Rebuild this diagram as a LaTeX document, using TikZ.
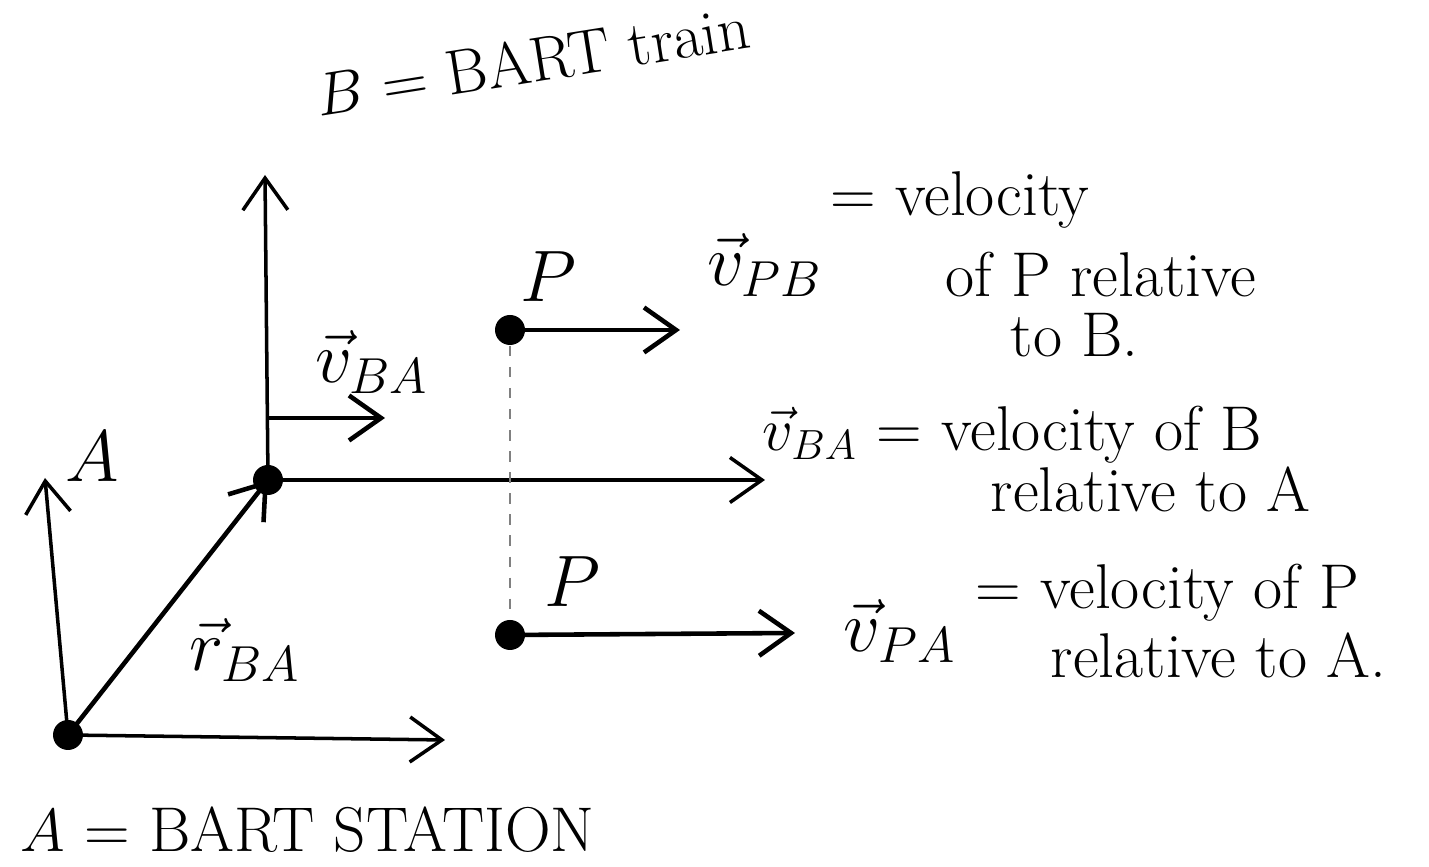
\documentclass[tikz,border=0pt]{standalone}
\usepackage{amsmath}
\usepackage{tikz}
\usetikzlibrary{arrows.meta,positioning,calc}

\begin{document}
\begin{tikzpicture}[>={Straight Barb[length=3.2mm,width=4.5mm]},
  axis/.style={->, line width=1pt},
  vec/.style={->, line width=1.3pt},
  pt/.style={circle, fill, inner sep=0pt, minimum size=3mm},
  txt/.style={font=\fontsize{18}{22}\selectfont, anchor=west, inner sep=0pt},
  lbl/.style={font=\fontsize{21}{25}\selectfont, inner sep=1pt}]
  \useasboundingbox (0,0) rectangle (14.29,8.67);
  % frame A (station)
  \node[pt] (OA) at (0.68,1.32) {};
  \coordinate (Ax) at (4.45,1.27);
  \coordinate (Ay) at (0.45,3.89);
  \draw[axis] (OA.center) -- (Ax);
  \draw[axis] (OA.center) -- (Ay);
  \node[lbl] (lA) at (0.92,4.10) {$A$};
  % frame B (train)
  \node[pt] (OB) at (2.68,3.87) {};
  \coordinate (By) at (2.65,6.92);
  \coordinate (Bx) at (7.65,3.87);
  \draw[axis] (OB.center) -- (By);
  \draw[axis] (OB.center) -- (Bx);
  % position of B relative to A
  \draw[vec] (OA.center) -- (OB.center);
  \node[lbl] (rBA) at (2.45,2.17) {$\vec{r}_{BA}$};
  % velocity of B
  \coordinate (vB0) at (2.68,4.49);
  \coordinate (vB1) at (3.85,4.49);
  \draw[vec] (vB0) -- (vB1);
  \node[lbl] (vBA) at (3.72,5.05) {$\vec{v}_{BA}$};
  % particle P seen from B and from A
  \node[pt] (PB) at (5.10,5.37) {};
  \node[pt] (PA) at (5.10,2.32) {};
  \draw[gray, dashed, line width=0.8pt] (PB) -- (PA);
  \node[lbl] (lPB) at (5.48,5.90) {$P$};
  \node[lbl] (lPA) at (5.72,2.85) {$P$};
  \coordinate (vPB1) at (6.80,5.37);
  \coordinate (vPA1) at (7.95,2.34);
  \draw[vec] (PB.center) -- (vPB1);
  \draw[vec] (PA.center) -- (vPA1);
  \node[lbl] (vPB) at (7.65,6.02) {$\vec{v}_{PB}$};
  \node[lbl] (vPA) at (9.00,2.36) {$\vec{v}_{PA}$};
  % explanations
  \node[txt, rotate=9] (tB) at (3.15,7.72) {$B$ = BART train};
  \node[txt] (tPB1) at (8.30,6.67) {= velocity};
  \node[txt] (tPB2) at (9.45,5.92) {of P relative};
  \node[txt] (tPB3) at (10.10,5.32) {to B.};
  \node[txt] (tBA1) at (7.62,4.32) {$\vec{v}_{BA}$ = velocity of B};
  \node[txt] (tBA2) at (9.90,3.78) {relative to A};
  \node[txt] (tPA1) at (9.75,2.74) {= velocity of P};
  \node[txt] (tPA2) at (10.50,2.12) {relative to A.};
  \node[txt] (tA) at (0.20,0.37) {$A$ = BART STATION};
\end{tikzpicture}
\end{document}
